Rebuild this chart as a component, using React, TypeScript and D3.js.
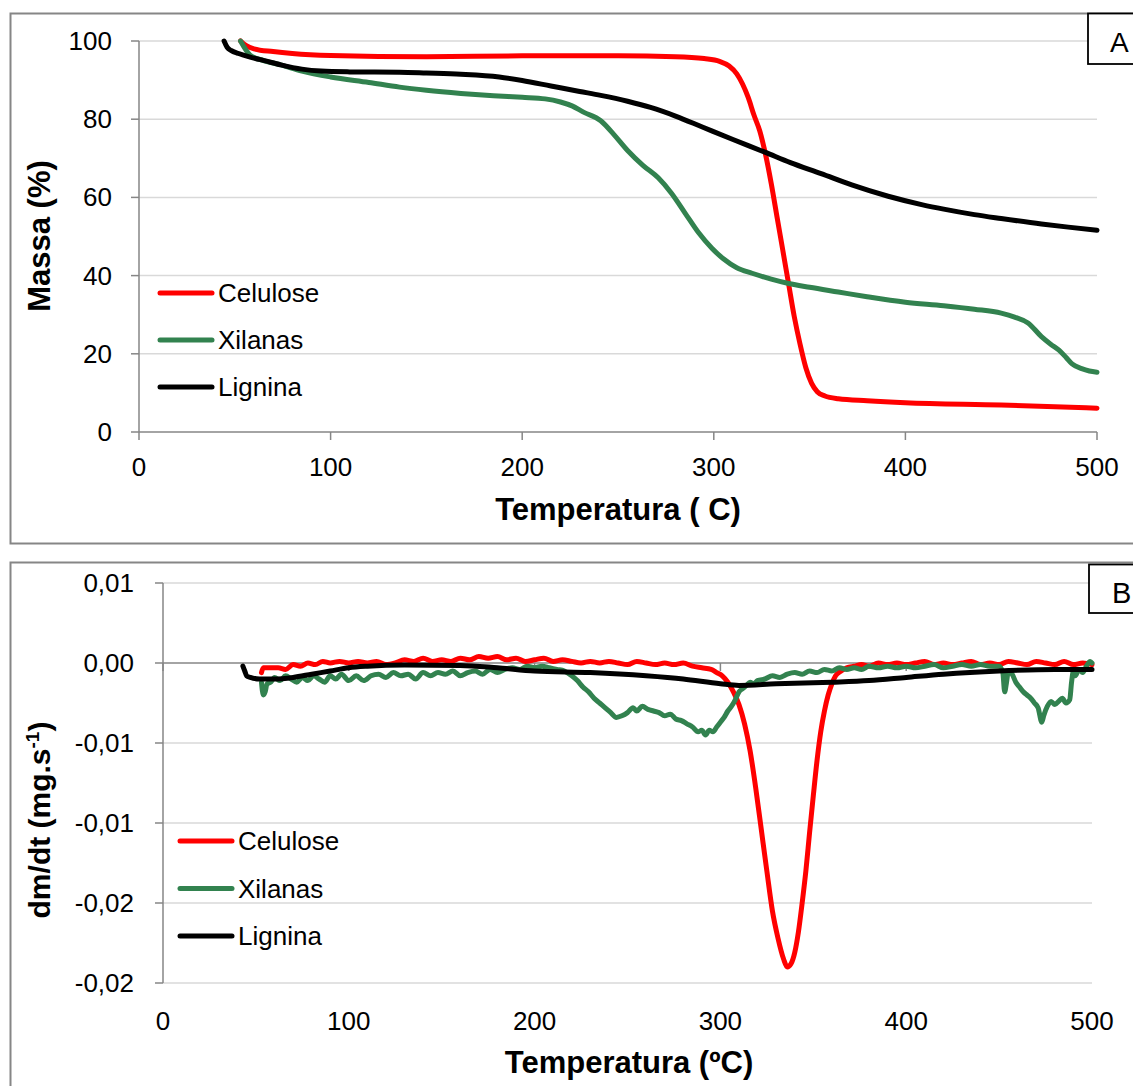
import React from "react";
import * as d3 from "d3";

// ---------- DATA ----------
const seriesNames = ["Celulose", "Xilanas", "Lignina"];
const seriesColors = ["#ff0000", "#32824f", "#000000"];

// Panel A: mass (%) vs temperature (°C)
const celuloseA: [number, number][] = [
  [53, 100], [56, 98.8], [60, 98], [70, 97.3], [80, 96.8], [100, 96.3], [150, 96], [200, 96.2],
  [250, 96.2], [280, 96], [295, 95.5], [303, 94.8], [308, 93.6], [312, 91.6], [315, 89],
  [318, 85.5], [321, 81], [324, 77], [327, 71], [330, 63.5], [333, 55], [336, 46.5], [339, 38],
  [342, 29.5], [345, 22.5], [348, 16.5], [351, 12.5], [354, 10.3], [358, 9.2], [365, 8.5],
  [380, 8], [400, 7.5], [450, 6.9], [500, 6.1],
];
const xilanasA: [number, number][] = [
  [53, 100], [58, 96.4], [65, 95], [74, 93.9], [85, 92.3], [100, 90.8], [120, 89.4], [136, 88.2],
  [150, 87.4], [168, 86.6], [185, 86], [200, 85.6], [212, 85.2], [220, 84.4], [226, 83.4],
  [232, 81.8], [241, 79.6], [248, 76], [255, 72], [263, 68.2], [271, 65], [278, 61], [285, 56],
  [292, 51], [299, 47], [305, 44.3], [312, 42], [320, 40.6], [330, 39.1], [338, 38.1],
  [350, 37], [365, 35.8], [380, 34.6], [400, 33.2], [420, 32.3], [436, 31.4], [450, 30.4],
  [457, 29.4], [464, 27.9], [471, 24.4], [476, 22.4], [480, 21], [484, 19], [487, 17.4],
  [492, 16.2], [496, 15.6], [500, 15.3],
];
const ligninaA: [number, number][] = [
  [44.4, 100], [46, 98.4], [48, 97.6], [52, 96.8], [58, 95.9], [66, 94.9], [74, 93.9],
  [85, 92.8], [95, 92.3], [110, 92.1], [136, 92], [150, 91.8], [168, 91.5], [188, 90.8],
  [200, 89.9], [215, 88.5], [230, 87.1], [241, 86.1], [255, 84.6], [267, 83], [280, 80.8],
  [294, 78], [310, 74.8], [327, 71.5], [340, 68.9], [356, 66.1], [372, 63.2], [391, 60.3],
  [409, 58.1], [420, 57], [436, 55.6], [450, 54.6], [471, 53.2], [485, 52.4], [500, 51.6],
];

// Panel B: dm/dt (mg/s) vs temperature (°C)
const celuloseB: [number, number][] = [
  [53, -0.0006], [54, -0.0003], [58, -0.0003], [62, -0.0003], [66, -0.0004], [70, -0.0001],
  [74, -0.0002], [78, 0.0], [82, -0.0001], [86, 0.0001], [90, 0.0], [95, 0.0001], [100, 0.0],
  [105, 0.0001], [110, 0.0], [115, 0.0001], [120, -0.0001], [125, 0.0], [130, 0.0002],
  [135, 0.0001], [140, 0.0003], [145, 0.0001], [150, 0.0002], [155, 0.0001], [160, 0.0003],
  [165, 0.0002], [170, 0.0004], [175, 0.0003], [180, 0.0004], [185, 0.0002], [190, 0.0003],
  [195, 0.0001], [200, 0.0002], [205, 0.0003], [210, 0.0001], [215, 0.0002], [220, 0.0001],
  [225, 0.0], [230, 0.0001], [235, 0.0], [240, 0.0001], [245, 0.0], [250, -0.0001],
  [255, 0.0001], [260, 0.0], [265, -0.0001], [270, 0.0], [275, -0.0001], [280, 0.0],
  [285, -0.0002], [290, -0.0003], [295, -0.0004], [298, -0.0006], [301, -0.0008],
  [304, -0.0012], [307, -0.0018], [310, -0.0026], [313, -0.0038], [316, -0.0055],
  [319, -0.0078], [322, -0.0104], [325, -0.013], [328, -0.0155], [331, -0.0172],
  [334, -0.0185], [336, -0.019], [338, -0.0188], [340, -0.0181], [342, -0.0168],
  [344, -0.015], [346, -0.013], [348, -0.0106], [350, -0.0083], [352, -0.0061],
  [354, -0.0043], [356, -0.003], [358, -0.002], [360, -0.0013], [362, -0.0008],
  [365, -0.0005], [368, -0.0003], [372, -0.0002], [376, -0.0001], [380, -0.0002],
  [385, 0.0], [390, -0.0001], [395, 0.0], [400, -0.0001], [405, 0.0], [410, 0.0001],
  [415, -0.0001], [420, 0.0], [425, -0.0001], [430, 0.0], [435, 0.0001], [440, -0.0001],
  [445, 0.0], [450, -0.0001], [455, 0.0001], [460, 0.0], [465, -0.0001], [470, 0.0001],
  [475, 0.0], [480, -0.0001], [485, 0.0001], [490, -0.0001], [495, 0.0], [500, -0.0001],
];
const xilanasB: [number, number][] = [
  [53, -0.0012], [54, -0.002], [55, -0.0018], [56, -0.0013], [58, -0.0012], [60, -0.0009],
  [63, -0.0011], [66, -0.0008], [69, -0.001], [72, -0.0012], [75, -0.0009], [78, -0.0011],
  [81, -0.0008], [84, -0.001], [87, -0.0012], [90, -0.0008], [93, -0.001], [96, -0.0007],
  [100, -0.0011], [104, -0.0008], [108, -0.0011], [112, -0.0008], [116, -0.0007],
  [120, -0.0009], [124, -0.0006], [128, -0.0008], [132, -0.0007], [136, -0.001],
  [140, -0.0006], [144, -0.0008], [148, -0.0006], [152, -0.0007], [156, -0.0005],
  [160, -0.0008], [164, -0.0006], [168, -0.0005], [172, -0.0007], [176, -0.0004],
  [180, -0.0006], [184, -0.0004], [188, -0.0003], [192, -0.0004], [196, -0.0002],
  [200, -0.0003], [204, -0.0002], [208, -0.0003], [212, -0.0004], [216, -0.0005],
  [220, -0.0008], [223, -0.0011], [226, -0.0015], [229, -0.0018], [232, -0.0022],
  [235, -0.0025], [238, -0.0028], [241, -0.0031], [244, -0.0034], [247, -0.0033],
  [250, -0.0031], [253, -0.0028], [255, -0.003], [258, -0.0027], [261, -0.0029],
  [264, -0.003], [267, -0.0031], [270, -0.0033], [273, -0.0032], [276, -0.0035],
  [279, -0.0036], [282, -0.0038], [285, -0.004], [288, -0.0043], [290, -0.0042],
  [292, -0.0045], [294, -0.0042], [296, -0.0043], [298, -0.004], [300, -0.0037],
  [302, -0.0034], [304, -0.003], [306, -0.0027], [308, -0.0023], [310, -0.0018],
  [312, -0.0016], [314, -0.0014], [316, -0.0012], [318, -0.0013], [320, -0.0011],
  [324, -0.001], [328, -0.0008], [332, -0.0009], [336, -0.0007], [340, -0.0006],
  [344, -0.0007], [348, -0.0005], [352, -0.0006], [356, -0.0004], [360, -0.0005],
  [364, -0.0003], [368, -0.0004], [372, -0.0003], [376, -0.0004], [380, -0.0002],
  [385, -0.0003], [390, -0.0002], [395, -0.0003], [400, -0.0002], [405, -0.0003],
  [410, -0.0002], [415, -0.0001], [420, -0.0003], [425, -0.0002], [430, -0.0001],
  [435, -0.0002], [440, -0.0001], [445, -0.0002], [450, -0.0002], [452, -0.0006],
  [453, -0.0018], [454, -0.0012], [455, -0.0005], [457, -0.0007], [459, -0.0012],
  [461, -0.0015], [463, -0.0018], [465, -0.002], [467, -0.0022], [469, -0.0025],
  [471, -0.0028], [473, -0.0037], [474, -0.0033], [476, -0.0027], [478, -0.0024],
  [480, -0.0026], [482, -0.0024], [484, -0.0022], [486, -0.0025], [488, -0.0023],
  [489, -0.0012], [490, -0.0005], [491, -0.0008], [493, -0.0004], [495, -0.0006],
  [497, -0.0002], [499, 0.0001], [500, 0.0],
];
const ligninaB: [number, number][] = [
  [43, -0.0002], [44, -0.0005], [45, -0.0008], [47, -0.0009], [52, -0.001], [60, -0.001],
  [70, -0.0009], [80, -0.0007], [90, -0.0005], [100, -0.0003], [110, -0.0002],
  [130, -0.00012], [160, -0.00015], [180, -0.0003], [200, -0.0005], [230, -0.0006],
  [260, -0.0008], [280, -0.001], [300, -0.0013], [310, -0.0014], [330, -0.0013],
  [360, -0.0012], [380, -0.0011], [400, -0.0009], [420, -0.0007], [450, -0.0005],
  [480, -0.0004], [500, -0.0004],
];

const xTicks = [0, 100, 200, 300, 400, 500];
const yTicksA = [0, 20, 40, 60, 80, 100];
const yTicksB = [0.005, 0, -0.005, -0.01, -0.015, -0.02];
const yTickLabelsB = ["0,01", "0,00", "-0,01", "-0,01", "-0,02", "-0,02"];

const FONT = "'Liberation Sans', Arial, sans-serif";
const AXIS = "#868686";
const GRID = "#d9d9d9";

export default function App() {
  // ---------- Panel A scales ----------
  const xA = d3.scaleLinear().domain([0, 500]).range([139, 1097]);
  const yA = d3.scaleLinear().domain([0, 100]).range([432, 41]);
  const lineA = d3
    .line<[number, number]>()
    .x((d) => xA(d[0]))
    .y((d) => yA(d[1]))
    .curve(d3.curveMonotoneX);
  const seriesA = [celuloseA, xilanasA, ligninaA];

  // ---------- Panel B scales ----------
  const xB = d3.scaleLinear().domain([0, 500]).range([163, 1092]);
  const yB = d3.scaleLinear().domain([-0.02, 0.005]).range([983, 583]);
  const lineB = d3
    .line<[number, number]>()
    .x((d) => xB(d[0]))
    .y((d) => yB(d[1]))
    .curve(d3.curveMonotoneX);
  const seriesB = [celuloseB, xilanasB, ligninaB];

  const legend = (x0: number, y0: number, step: number) =>
    seriesNames.map((n, i) => (
      <g key={n}>
        <line
          x1={x0}
          x2={x0 + 52}
          y1={y0 + i * step}
          y2={y0 + i * step}
          stroke={seriesColors[i]}
          strokeWidth={5}
          strokeLinecap="round"
        />
        <text
          x={x0 + 58}
          y={y0 + i * step}
          dominantBaseline="central"
          fontSize={26}
          fontFamily={FONT}
          fill="#000"
        >
          {n}
        </text>
      </g>
    ));

  return (
    <svg
      width={1133}
      height={1086}
      style={{ position: "absolute", left: 0, top: 0, background: "#fff" }}
    >
      <rect x={0} y={0} width={1133} height={1086} fill="#fff" />

      {/* ================= PANEL A ================= */}
      <rect x={10.5} y={13.5} width={1140} height={530} fill="none" stroke={AXIS} strokeWidth={2} />
      {yTicksA.map((t) => (
        <g key={"ga" + t}>
          {t !== 0 && (
            <line x1={xA(0)} x2={xA(500)} y1={yA(t)} y2={yA(t)} stroke={GRID} strokeWidth={1.5} />
          )}
          <line x1={xA(0) - 8} x2={xA(0)} y1={yA(t)} y2={yA(t)} stroke={AXIS} strokeWidth={1.5} />
          <text
            x={112}
            y={yA(t)}
            textAnchor="end"
            dominantBaseline="central"
            fontSize={26}
            fontFamily={FONT}
          >
            {t}
          </text>
        </g>
      ))}
      <line x1={xA(0)} x2={xA(0)} y1={yA(100)} y2={yA(0)} stroke={AXIS} strokeWidth={1.5} />
      <line x1={xA(0)} x2={xA(500)} y1={yA(0)} y2={yA(0)} stroke={AXIS} strokeWidth={1.5} />
      {xTicks.map((t) => (
        <g key={"xa" + t}>
          <line x1={xA(t)} x2={xA(t)} y1={yA(0)} y2={yA(0) + 8} stroke={AXIS} strokeWidth={1.5} />
          <text x={xA(t)} y={476} textAnchor="middle" fontSize={26} fontFamily={FONT}>
            {t}
          </text>
        </g>
      ))}
      {seriesA.map((s, i) => (
        <path
          key={"la" + i}
          d={lineA(s) || ""}
          fill="none"
          stroke={seriesColors[i]}
          strokeWidth={5}
          strokeLinejoin="round"
          strokeLinecap="round"
        />
      ))}
      {legend(160, 293, 47)}
      <text
        x={618}
        y={520}
        textAnchor="middle"
        fontSize={31}
        fontWeight="bold"
        fontFamily={FONT}
      >
        Temperatura ( C)
      </text>
      <text
        transform="translate(50,236) rotate(-90)"
        textAnchor="middle"
        fontSize={31}
        fontWeight="bold"
        fontFamily={FONT}
      >
        Massa (%)
      </text>
      <rect x={1088} y={13.5} width={60} height={50.5} fill="#fff" stroke="#000" strokeWidth={1.8} />
      <text x={1110} y={52} fontSize={28} fontFamily={FONT}>
        A
      </text>

      {/* ================= PANEL B ================= */}
      <rect x={10.5} y={562.5} width={1140} height={540} fill="none" stroke={AXIS} strokeWidth={2} />
      {yTicksB.map((t, i) => (
        <g key={"gb" + i}>
          {t !== 0 && (
            <line x1={xB(0)} x2={xB(500)} y1={yB(t)} y2={yB(t)} stroke={GRID} strokeWidth={1.5} />
          )}
          <line x1={xB(0) - 8} x2={xB(0)} y1={yB(t)} y2={yB(t)} stroke={AXIS} strokeWidth={1.5} />
          <text
            x={134}
            y={yB(t)}
            textAnchor="end"
            dominantBaseline="central"
            fontSize={26}
            fontFamily={FONT}
          >
            {yTickLabelsB[i]}
          </text>
        </g>
      ))}
      <line x1={xB(0)} x2={xB(0)} y1={yB(0.005)} y2={yB(-0.02)} stroke={AXIS} strokeWidth={1.5} />
      <line x1={xB(0)} x2={xB(500)} y1={yB(0)} y2={yB(0)} stroke={AXIS} strokeWidth={1.5} />
      {xTicks.map((t) => (
        <g key={"xb" + t}>
          <line x1={xB(t)} x2={xB(t)} y1={yB(0)} y2={yB(0) + 8} stroke={AXIS} strokeWidth={1.5} />
          <text x={xB(t)} y={1030} textAnchor="middle" fontSize={26} fontFamily={FONT}>
            {t}
          </text>
        </g>
      ))}
      {seriesB.map((s, i) => (
        <path
          key={"lb" + i}
          d={lineB(s) || ""}
          fill="none"
          stroke={seriesColors[i]}
          strokeWidth={5}
          strokeLinejoin="round"
          strokeLinecap="round"
        />
      ))}
      {legend(180, 841, 47.5)}
      <text
        x={629}
        y={1073}
        textAnchor="middle"
        fontSize={31}
        fontWeight="bold"
        fontFamily={FONT}
      >
        Temperatura (ºC)
      </text>
      <text
        transform="translate(50,820) rotate(-90)"
        textAnchor="middle"
        fontSize={30}
        fontWeight="bold"
        fontFamily={FONT}
      >
        dm/dt (mg.s
        <tspan dy={-11} fontSize={19}>
          -1
        </tspan>
        <tspan dy={11}>)</tspan>
      </text>
      <rect x={1089} y={564.5} width={60} height={48.5} fill="#fff" stroke="#000" strokeWidth={1.8} />
      <text x={1112} y={603} fontSize={29} fontFamily={FONT}>
        B
      </text>
    </svg>
  );
}
